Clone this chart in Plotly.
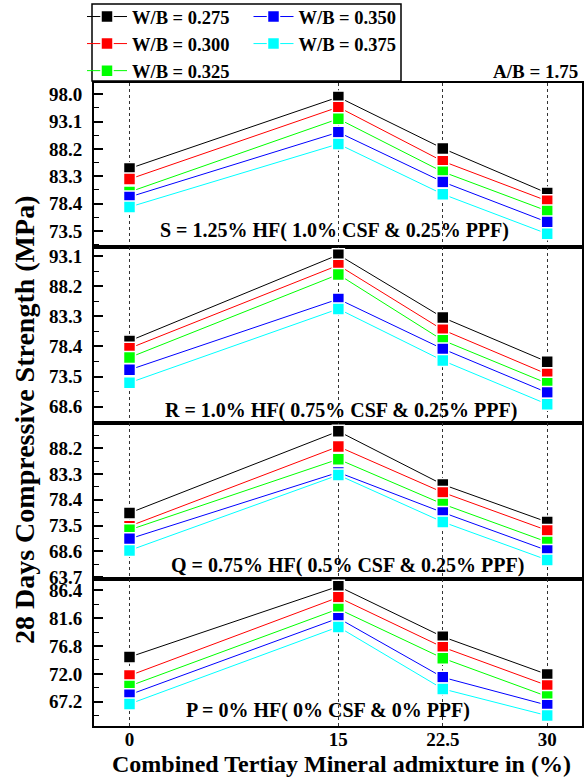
import plotly.graph_objects as go

# ---------------- data ----------------
x_vals = [0, 15, 22.5, 30]
x_ticktext = ["0", "15", "22.5", "30"]
series_names = ["W/B = 0.275", "W/B = 0.300", "W/B = 0.325", "W/B = 0.350", "W/B = 0.375"]
series_colors = ["#000000", "#FF0000", "#00FF00", "#0000FF", "#00FFFF"]

# Panel S = 1.25% HF
S_vals = [
    [84.7, 97.5, 88.3, 80.3],
    [82.8, 95.7, 86.0, 78.9],
    [80.5, 93.6, 84.1, 77.1],
    [79.6, 91.2, 82.3, 75.1],
    [77.8, 89.1, 80.1, 73.0],
]
# Panel R = 1.0% HF
R_vals = [
    [79.3, 93.3, 83.1, 75.9],
    [78.1, 91.6, 81.1, 73.9],
    [76.6, 90.1, 79.4, 72.4],
    [74.6, 86.1, 78.0, 70.9],
    [72.5, 84.5, 76.1, 69.0],
]
# Panel Q = 0.75% HF
Q_vals = [
    [75.9, 91.4, 81.3, 74.2],
    [73.4, 88.5, 79.8, 72.6],
    [72.7, 86.1, 77.6, 70.4],
    [71.0, 83.6, 76.0, 68.8],
    [68.8, 83.1, 74.2, 67.0],
]
# Panel P = 0% HF
P_vals = [
    [74.9, 87.1, 78.4, 71.9],
    [71.7, 85.2, 76.6, 70.0],
    [69.9, 83.2, 74.7, 68.1],
    [68.4, 81.6, 71.4, 66.6],
    [66.8, 80.1, 69.4, 64.8],
]

panel_texts = [
    "S = 1.25% HF( 1.0% CSF & 0.25% PPF)",
    "R = 1.0% HF( 0.75% CSF & 0.25% PPF)",
    "Q = 0.75% HF( 0.5% CSF & 0.25% PPF)",
    "P = 0% HF( 0% CSF & 0% PPF)",
]
panel_data = [S_vals, R_vals, Q_vals, P_vals]
y_ranges = [[70.63, 100.03], [65.95, 94.57], [63.38, 92.97], [63.0, 88.37]]
y_tick0 = [73.5, 68.6, 63.7, 67.2]
y_dtick = [4.9, 4.9, 4.9, 4.8]

x_title = "Combined Tertiay Mineral admixture in (%)"
y_title = "28 Days Compressive Strength (MPa)"
ab_text = "A/B = 1.75"

# ---------------- layout geometry ----------------
W, H = 587, 780
ML, MR, MT, MB = 94, 5, 83, 54
PW = W - ML - MR
PH = H - MT - MB
# panel pixel bounds (top, bottom), top to bottom
panel_px = [(83, 247), (247, 423), (423, 579), (579, 726)]


def py2paper(py):
    return (H - MB - py) / PH


def px2paper(px):
    return (px - ML) / PW


FONT = "Liberation Serif"

fig = go.Figure()

for p, vals in enumerate(panel_data):
    xa = "x" if p == 0 else f"x{p+1}"
    ya = "y" if p == 0 else f"y{p+1}"
    for i, (name, col) in enumerate(zip(series_names, series_colors)):
        show = p == 0
        leg = "legend" if i in (0, 1, 2) else "legend2"
        fig.add_trace(go.Scatter(
            x=x_vals, y=vals[i], mode="lines+markers", name=f"<b>{name}</b>",
            xaxis=xa, yaxis=ya,
            line=dict(color=col, width=1),
            marker=dict(symbol="square", size=12, color=col,
                        line=dict(color="white", width=1.5)),
            showlegend=show, legendgroup=name, legend=leg,
        ))

layout = dict(
    width=W, height=H,
    margin=dict(l=ML, r=MR, t=MT, b=MB, autoexpand=False),
    plot_bgcolor="white", paper_bgcolor="white",
    font=dict(family=FONT, size=18, color="black", weight="bold"),
    showlegend=True,
)

for p in range(4):
    top, bot = panel_px[p]
    dom = [py2paper(bot), py2paper(top)]
    xk = "xaxis" if p == 0 else f"xaxis{p+1}"
    yk = "yaxis" if p == 0 else f"yaxis{p+1}"
    ya = "y" if p == 0 else f"y{p+1}"
    xa = "x" if p == 0 else f"x{p+1}"
    layout[xk] = dict(
        domain=[0, 1], anchor=ya, range=[-2.55, 32.5],
        tickvals=x_vals, ticktext=[f"<b>{t}</b>" for t in x_ticktext],
        showticklabels=(p == 3),
        tickfont=dict(family=FONT, size=19, weight="bold"),
        ticklabelstandoff=-5,
        ticks="", showgrid=True, gridcolor="#333333", griddash="dot", gridwidth=1,
        showline=True, linecolor="black", linewidth=2, mirror=True,
        zeroline=False, fixedrange=True,
    )
    layout[yk] = dict(
        domain=dom, anchor=xa, range=y_ranges[p],
        tick0=y_tick0[p], dtick=y_dtick[p], tickformat=".1f",
        ticks="inside", ticklen=9, tickwidth=1.5, tickcolor="black",
        minor=dict(ticks="inside", ticklen=5, tickwidth=1.2, dtick=y_dtick[p] / 2,
                   tick0=y_tick0[p], tickcolor="black", showgrid=False),
        tickfont=dict(family=FONT, size=19, weight="bold"),
        ticklabelstandoff=6,
        showgrid=False, zeroline=False,
        showline=True, linecolor="black", linewidth=2, mirror=True,
        fixedrange=True,
    )

layout["legend"] = dict(
    x=px2paper(82), y=py2paper(-2), xanchor="left", yanchor="top",
    bgcolor="rgba(0,0,0,0)", borderwidth=0,
    font=dict(family=FONT, size=18.5, weight="bold"),
    tracegroupgap=0, itemwidth=40,
)
layout["legend2"] = dict(
    x=px2paper(248.5), y=py2paper(-2), xanchor="left", yanchor="top",
    bgcolor="rgba(0,0,0,0)", borderwidth=0,
    font=dict(family=FONT, size=18.5, weight="bold"),
    tracegroupgap=0, itemwidth=40,
)

annotations = []
text_pos = [(334.5, 230.5), (341, 410), (347.5, 565), (328, 710.5)]
for t, (tx, ty) in zip(panel_texts, text_pos):
    annotations.append(dict(
        text=f"<b>{t}</b>", xref="paper", yref="paper", x=px2paper(tx), y=py2paper(ty),
        xanchor="center", yanchor="middle", showarrow=False,
        font=dict(family=FONT, size=20, weight="bold"),
    ))
annotations.append(dict(
    text=f"<b>{y_title}</b>", xref="paper", yref="paper", x=px2paper(24), y=py2paper(420),
    xanchor="center", yanchor="middle", textangle=-90, showarrow=False,
    font=dict(family=FONT, size=28, weight="bold"),
))
annotations.append(dict(
    text=f"<b>{x_title}</b>", xref="paper", yref="paper", x=px2paper(341), y=py2paper(764),
    xanchor="center", yanchor="middle", showarrow=False,
    font=dict(family=FONT, size=24, weight="bold"),
))
annotations.append(dict(
    text=f"<b>{ab_text}</b>", xref="paper", yref="paper", x=px2paper(535), y=py2paper(71),
    xanchor="center", yanchor="middle", showarrow=False,
    font=dict(family=FONT, size=19, weight="bold"),
))
layout["annotations"] = annotations

layout["shapes"] = [dict(
    type="rect", xref="paper", yref="paper",
    x0=px2paper(92), x1=px2paper(401), y0=py2paper(81), y1=py2paper(4),
    line=dict(color="black", width=1.5), fillcolor="rgba(0,0,0,0)", layer="above",
)]

fig.update_layout(**layout)
fig.write_html("out.html")
